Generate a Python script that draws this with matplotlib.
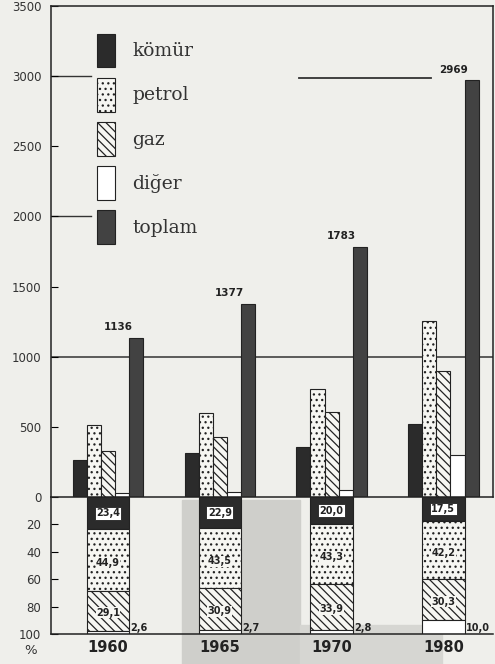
import numpy as np
import matplotlib.pyplot as plt
from matplotlib.patches import Rectangle

# enerji tüketimi (mtoe) ve payları (%)
years = ['1960', '1965', '1970', '1980']
series = ['kömür', 'petrol', 'gaz', 'diğer', 'toplam']
komur = [266, 315, 357, 520]
petrol = [510, 599, 772, 1253]
gaz = [331, 425, 604, 900]
diger = [30, 37, 50, 297]
toplam = [1136, 1377, 1783, 2969]

pct_komur = [23.4, 22.9, 20.0, 17.5]
pct_petrol = [44.9, 43.5, 43.3, 42.2]
pct_gaz = [29.1, 30.9, 33.9, 30.3]
pct_diger = [2.6, 2.7, 2.8, 10.0]

paper = '#efefeb'
ink = '#222222'
plt.rcParams['hatch.linewidth'] = 0.9

fig = plt.figure(figsize=(4.95, 6.64), dpi=100, facecolor=paper)
ax1 = fig.add_axes([0.103, 0.2515, 0.893, 0.7395])
ax2 = fig.add_axes([0.103, 0.045, 0.893, 0.2065], sharex=ax1)
for ax in (ax1, ax2):
    ax.set_facecolor('none')

# gölge (tarama izi)
fig.patches.append(Rectangle((0.368, 0.0), 0.238, 0.247, transform=fig.transFigure,
                             color='#cfcfcb', zorder=-1))
fig.patches.append(Rectangle((0.606, 0.0), 0.287, 0.059, transform=fig.transFigure,
                             color='#d6d6d2', zorder=-1))

x = np.arange(len(years))
w = 0.126
styles = [
    dict(color='#2b2b2b', edgecolor=ink),
    dict(color='#f6f6f2', edgecolor=ink, hatch='...'),
    dict(color='#f6f6f2', edgecolor=ink, hatch='\\\\\\\\'),
    dict(color='white', edgecolor=ink),
    dict(color='#424242', edgecolor=ink),
]
values = [komur, petrol, gaz, diger, toplam]
handles = []
for i, (vals, st) in enumerate(zip(values, styles)):
    b = ax1.bar(x + (i - 2) * w, vals, w, linewidth=0.8, label=series[i], zorder=2, **st)
    handles.append(b)

for xi, t in zip(x, toplam):
    ax1.text(xi + 0.7 * w, t + 40, str(t), ha='center', va='bottom', fontsize=7.5,
             fontweight='bold', color=ink, family=['Liberation Sans Narrow', 'DejaVu Sans'])

# yatay çizgiler
ax1.axhline(1000, color='#333333', lw=1.1, zorder=1)
ax1.axhline(3000, xmax=0.09, color='#333333', lw=1.0, zorder=1)
ax1.axhline(2000, xmax=0.09, color='#333333', lw=1.0, zorder=1)
ax1.axhline(2990, xmin=0.56, xmax=0.86, color='#333333', lw=1.3, zorder=1)

ax1.set_ylim(0, 3500)
ax1.set_xlim(-0.51, 3.444)
ax1.set_yticks(range(0, 3501, 500))
ax1.tick_params(axis='y', direction='in', length=5, labelsize=8.5, labelcolor='#333333', pad=7)
ax1.tick_params(axis='x', bottom=False, labelbottom=False)
for s in ax1.spines.values():
    s.set_color(ink)
    s.set_linewidth(1.1)

leg = ax1.legend(handles=handles, loc='upper left', bbox_to_anchor=(0.065, 0.978), frameon=False,
                 handlelength=1.0, handleheight=2.4, labelspacing=0.55, handletextpad=0.9,
                 prop={'family': 'DejaVu Serif', 'size': 13.5})
for t in leg.get_texts():
    t.set_color('#333333')

# yüzde payları
pcts = [pct_komur, pct_petrol, pct_gaz, pct_diger]
bottom = np.zeros(len(years))
lab_font = dict(fontsize=7, fontweight='bold', color=ink,
                family=['Liberation Sans Narrow', 'DejaVu Sans'])
for i, (vals, st) in enumerate(zip(pcts, styles[:4])):
    vals = np.array(vals)
    ax2.bar(x, vals, 3 * w, bottom=bottom, linewidth=0.8, zorder=2, **st)
    for xi, b, v in zip(x, bottom, vals):
        txt = f'{v:.1f}'.replace('.', ',')
        if i == 0:
            ax2.text(xi, b + v / 2, txt, ha='center', va='center', zorder=3,
                     bbox=dict(boxstyle='square,pad=0.15', fc='white', ec=ink, lw=0.6), **lab_font)
        elif i == 3:
            ax2.text(xi + 1.6 * w, 99, txt, ha='left', va='bottom', zorder=3, **lab_font)
        else:
            ax2.text(xi, b + v * 0.55, txt, ha='center', va='center', zorder=3,
                     bbox=dict(boxstyle='square,pad=0.05', fc='#f6f6f2', ec='none'), **lab_font)
    bottom += vals

ax2.set_ylim(100, 0)
ax2.set_yticks([20, 40, 60, 80, 100])
ax2.tick_params(axis='y', direction='in', length=5, labelsize=8.5, labelcolor='#333333', pad=7)
ax2.set_xticks(x)
ax2.set_xticklabels(years, fontsize=10.5, fontweight='bold', color=ink)
ax2.tick_params(axis='x', length=0, pad=4)
ax2.spines['top'].set_visible(False)
ax2.spines['right'].set_visible(False)
for s in ('left', 'bottom'):
    ax2.spines[s].set_color(ink)
    ax2.spines[s].set_linewidth(1.1)
ax2.text(-0.047, -0.12, '%', transform=ax2.transAxes, ha='center', va='center',
         fontsize=9.5, color='#333333')

fig.savefig('out.png', dpi=100, facecolor=paper)
